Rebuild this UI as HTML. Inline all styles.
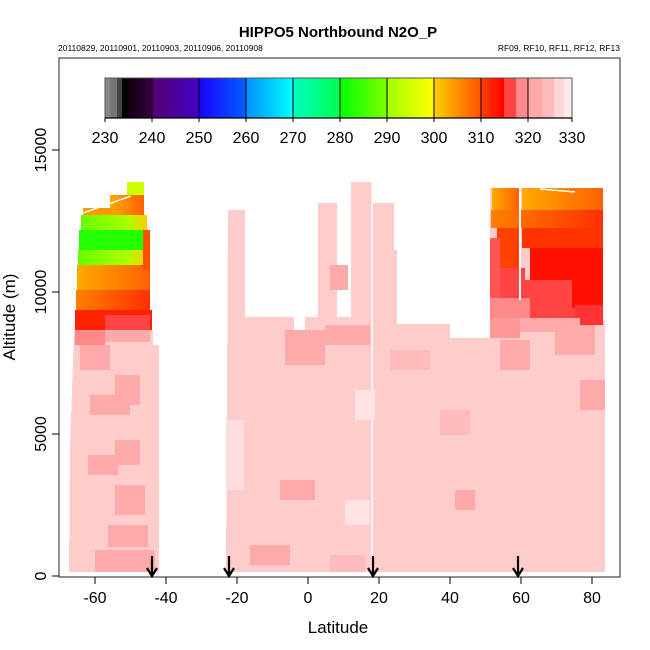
<!DOCTYPE html>
<html><head><meta charset="utf-8"><style>
html,body{margin:0;padding:0;background:#fff;}
svg{display:block;font-family:"Liberation Sans",sans-serif;}
</style></head><body>
<svg width="650" height="650" viewBox="0 0 650 650" xmlns="http://www.w3.org/2000/svg">
<defs>
<linearGradient id="g1"><stop offset="0" stop-color="#000"/><stop offset="1" stop-color="#3a0040"/></linearGradient>
<linearGradient id="g2"><stop offset="0" stop-color="#560070"/><stop offset="1" stop-color="#4000c8"/></linearGradient>
<linearGradient id="g3"><stop offset="0" stop-color="#1a00ff"/><stop offset="1" stop-color="#0060ff"/></linearGradient>
<linearGradient id="g4"><stop offset="0" stop-color="#0090ff"/><stop offset="1" stop-color="#00ffff"/></linearGradient>
<linearGradient id="g5"><stop offset="0" stop-color="#00ffc0"/><stop offset="1" stop-color="#00ff50"/></linearGradient>
<linearGradient id="g6"><stop offset="0" stop-color="#00ff00"/><stop offset="1" stop-color="#80ff00"/></linearGradient>
<linearGradient id="g7"><stop offset="0" stop-color="#a0ff00"/><stop offset="1" stop-color="#ffff00"/></linearGradient>
<linearGradient id="g8"><stop offset="0" stop-color="#ffd000"/><stop offset="1" stop-color="#ff5000"/></linearGradient>
<linearGradient id="g9"><stop offset="0" stop-color="#ff4000"/><stop offset="1" stop-color="#ff0000"/></linearGradient>
<linearGradient id="lg1"><stop offset="0" stop-color="#66ff00"/><stop offset="0.7" stop-color="#aaff00"/><stop offset="1" stop-color="#ffcc00"/></linearGradient>
<linearGradient id="lg2"><stop offset="0" stop-color="#ffaa00"/><stop offset="1" stop-color="#ff6000"/></linearGradient>
<linearGradient id="lg3"><stop offset="0" stop-color="#ff8000"/><stop offset="1" stop-color="#ff3000"/></linearGradient>
</defs>

<text x="338" y="37" font-size="15" font-weight="bold" text-anchor="middle">HIPPO5 Northbound N2O_P</text>
<text x="58" y="51" font-size="8.5">20110829, 20110901, 20110903, 20110906, 20110908</text>
<text x="620" y="51" font-size="8.5" text-anchor="end">RF09, RF10, RF11, RF12, RF13</text>

<g>
<rect x="105" y="78" width="5" height="40" fill="#888"/>
<rect x="110" y="78" width="7" height="40" fill="#777"/>
<rect x="117" y="78" width="5" height="40" fill="#444"/>
<rect x="122" y="78" width="30" height="40" fill="url(#g1)"/>
<rect x="152" y="78" width="47" height="40" fill="url(#g2)"/>
<rect x="199" y="78" width="47" height="40" fill="url(#g3)"/>
<rect x="246" y="78" width="47" height="40" fill="url(#g4)"/>
<rect x="293" y="78" width="47" height="40" fill="url(#g5)"/>
<rect x="340" y="78" width="47" height="40" fill="url(#g6)"/>
<rect x="387" y="78" width="47" height="40" fill="url(#g7)"/>
<rect x="434" y="78" width="47" height="40" fill="url(#g8)"/>
<rect x="481" y="78" width="23" height="40" fill="url(#g9)"/>
<rect x="504" y="78" width="12" height="40" fill="#ff4444"/>
<rect x="516" y="78" width="12" height="40" fill="#ff8888"/>
<rect x="528" y="78" width="14" height="40" fill="#ffaaaa"/>
<rect x="542" y="78" width="12" height="40" fill="#ffbbbb"/>
<rect x="554" y="78" width="10" height="40" fill="#ffd5d5"/>
<rect x="564" y="78" width="8" height="40" fill="#ffeaea"/>
<g stroke="#000" stroke-width="1">
<line x1="152" y1="78" x2="152" y2="118"/><line x1="199" y1="78" x2="199" y2="118"/>
<line x1="246" y1="78" x2="246" y2="118"/><line x1="293" y1="78" x2="293" y2="118"/>
<line x1="340" y1="78" x2="340" y2="118"/><line x1="387" y1="78" x2="387" y2="118"/>
<line x1="434" y1="78" x2="434" y2="118"/><line x1="481" y1="78" x2="481" y2="118"/>
<line x1="528" y1="78" x2="528" y2="118"/>
</g>
<rect x="105" y="78" width="467" height="40" fill="none" stroke="#555" stroke-width="1"/>
<line x1="105" y1="118" x2="572" y2="118" stroke="#000" stroke-width="1.3"/>
<g stroke="#000"><line x1="105" y1="118" x2="105" y2="122"/><line x1="152" y1="118" x2="152" y2="122"/><line x1="199" y1="118" x2="199" y2="122"/><line x1="246" y1="118" x2="246" y2="122"/><line x1="293" y1="118" x2="293" y2="122"/><line x1="340" y1="118" x2="340" y2="122"/><line x1="387" y1="118" x2="387" y2="122"/><line x1="434" y1="118" x2="434" y2="122"/><line x1="481" y1="118" x2="481" y2="122"/><line x1="528" y1="118" x2="528" y2="122"/><line x1="572" y1="118" x2="572" y2="122"/></g>
<g font-size="16" text-anchor="middle">
<text x="105" y="143">230</text><text x="152" y="143">240</text><text x="199" y="143">250</text><text x="246" y="143">260</text><text x="293" y="143">270</text><text x="340" y="143">280</text><text x="387" y="143">290</text><text x="434" y="143">300</text><text x="481" y="143">310</text><text x="528" y="143">320</text><text x="572" y="143">330</text>
</g>
</g>

<g shape-rendering="crispEdges">
<polygon points="74,330 153,330 153,345 159,345 159,572 69,572 70,450" fill="#ffcccc"/>
<rect x="127" y="182" width="17" height="14" fill="#ccff00"/>
<rect x="110" y="195" width="34" height="20" fill="url(#lg2)"/>
<rect x="83" y="208" width="30" height="8" fill="#ff9900"/>
<rect x="81" y="215" width="66" height="15" fill="url(#lg1)"/>
<rect x="79" y="230" width="68" height="20" fill="#22ff00"/>
<rect x="78" y="250" width="70" height="15" fill="url(#lg1)"/>
<rect x="77" y="265" width="73" height="25" fill="url(#lg2)"/>
<rect x="76" y="290" width="74" height="20" fill="url(#lg3)"/>
<rect x="75" y="310" width="77" height="20" fill="#ff2200"/>
<rect x="105" y="315" width="45" height="15" fill="#ff4444"/>
<rect x="75" y="330" width="30" height="15" fill="#ff8888"/>
<rect x="105" y="330" width="45" height="12" fill="#ffaaaa"/>
<rect x="143" y="230" width="7" height="40" fill="#ff5000"/>
<line x1="83" y1="213" x2="131" y2="196" stroke="#fff" stroke-width="1.5"/>
<rect x="80" y="345" width="30" height="25" fill="#ffaaaa"/>
<rect x="115" y="375" width="25" height="30" fill="#ffaaaa"/>
<rect x="90" y="395" width="40" height="20" fill="#ffaaaa"/>
<rect x="115" y="440" width="25" height="25" fill="#ffaaaa"/>
<rect x="88" y="455" width="30" height="20" fill="#ffaaaa"/>
<rect x="115" y="485" width="30" height="30" fill="#ffaaaa"/>
<rect x="108" y="525" width="40" height="22" fill="#ffaaaa"/>
<rect x="95" y="550" width="60" height="22" fill="#ffaaaa"/>

<polygon points="228,210 245,210 245,317 294,317 294,332 305,332 305,317 318,317 318,203 337,203 337,317 351,317 351,182 373,182 373,203 394,203 394,250 397,250 397,324 450,324 450,338 487,338 487,572 226,572" fill="#ffcccc"/>
<line x1="372" y1="182" x2="372" y2="572" stroke="#fff" stroke-width="1.5"/>
<rect x="226" y="420" width="18" height="70" fill="#ffdede"/>
<rect x="285" y="330" width="40" height="35" fill="#ffaaaa"/>
<rect x="325" y="325" width="45" height="20" fill="#ffaaaa"/>
<rect x="330" y="265" width="18" height="25" fill="#ffaaaa"/>
<rect x="390" y="350" width="40" height="20" fill="#ffbbbb"/>
<rect x="280" y="480" width="35" height="20" fill="#ffaaaa"/>
<rect x="250" y="545" width="40" height="20" fill="#ffaaaa"/>
<rect x="330" y="555" width="35" height="17" fill="#ffbbbb"/>
<rect x="345" y="500" width="25" height="25" fill="#ffe2e2"/>
<rect x="355" y="390" width="20" height="30" fill="#ffe2e2"/>
<rect x="440" y="410" width="30" height="25" fill="#ffbbbb"/>
<rect x="455" y="490" width="20" height="20" fill="#ffaaaa"/>

<polygon points="490,188 603,188 603,320 605,320 605,572 487,572 487,338 490,338" fill="#ffcccc"/>
<rect x="492" y="188" width="27" height="25" fill="url(#lg2)"/>
<rect x="522" y="188" width="81" height="22" fill="url(#lg2)"/>
<rect x="491" y="210" width="112" height="18" fill="url(#lg3)"/>
<rect x="497" y="228" width="22" height="40" fill="#ff4000"/>
<rect x="522" y="228" width="81" height="20" fill="#ff3300"/>
<rect x="530" y="248" width="73" height="60" fill="#ff1100"/>
<rect x="490" y="238" width="10" height="60" fill="#ff5555"/>
<rect x="500" y="268" width="25" height="30" fill="#ff4444"/>
<rect x="522" y="280" width="50" height="35" fill="#ff4444"/>
<rect x="490" y="298" width="40" height="20" fill="#ff8888"/>
<rect x="530" y="308" width="45" height="10" fill="#ff4444"/>
<rect x="575" y="305" width="28" height="20" fill="#ff3333"/>
<rect x="520" y="318" width="60" height="14" fill="#ffaaaa"/>
<rect x="490" y="318" width="30" height="20" fill="#ff9999"/>
<rect x="555" y="325" width="40" height="30" fill="#ffaaaa"/>
<rect x="500" y="340" width="30" height="30" fill="#ffaaaa"/>
<rect x="580" y="380" width="25" height="30" fill="#ffaaaa"/>
<line x1="520" y1="188" x2="520" y2="300" stroke="#fff" stroke-width="2"/>
<line x1="540" y1="189" x2="575" y2="192" stroke="#fff" stroke-width="1.5"/>
</g>

<rect x="59" y="58" width="561" height="519" fill="none" stroke="#555" stroke-width="1.3"/>
<g stroke="#000">
<line x1="52" y1="576" x2="59" y2="576"/><line x1="52" y1="434" x2="59" y2="434"/>
<line x1="52" y1="292" x2="59" y2="292"/><line x1="52" y1="150" x2="59" y2="150"/>
</g>
<g font-size="16" text-anchor="middle">
<text transform="translate(46,576) rotate(-90)">0</text>
<text transform="translate(46,434) rotate(-90)">5000</text>
<text transform="translate(46,292) rotate(-90)">10000</text>
<text transform="translate(46,150) rotate(-90)">15000</text>
</g>
<text transform="translate(15,317) rotate(-90)" font-size="17" text-anchor="middle">Altitude (m)</text>
<g stroke="#000">
<line x1="95" y1="577" x2="95" y2="584"/><line x1="166" y1="577" x2="166" y2="584"/>
<line x1="237" y1="577" x2="237" y2="584"/><line x1="308" y1="577" x2="308" y2="584"/>
<line x1="379" y1="577" x2="379" y2="584"/><line x1="450" y1="577" x2="450" y2="584"/>
<line x1="521" y1="577" x2="521" y2="584"/><line x1="592" y1="577" x2="592" y2="584"/>
</g>
<g font-size="16" text-anchor="middle">
<text x="95" y="603">-60</text><text x="166" y="603">-40</text><text x="237" y="603">-20</text>
<text x="308" y="603">0</text><text x="379" y="603">20</text><text x="450" y="603">40</text>
<text x="521" y="603">60</text><text x="592" y="603">80</text>
<text x="338" y="633" font-size="17">Latitude</text>
</g>
<g stroke="#000" stroke-width="2.2" fill="none">
<path d="M152,556 V575 M147,568 L152,576 L157,568"/>
<path d="M229,556 V575 M224,568 L229,576 L234,568"/>
<path d="M373,556 V575 M368,568 L373,576 L378,568"/>
<path d="M518,556 V575 M513,568 L518,576 L523,568"/>
</g>
</svg>
</body></html>
